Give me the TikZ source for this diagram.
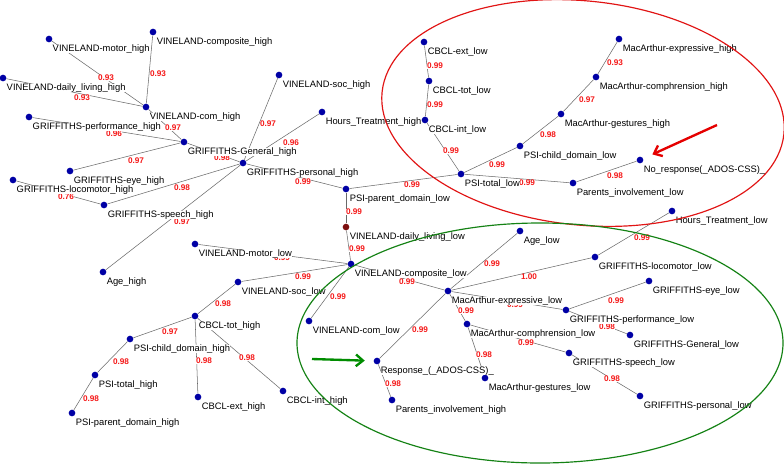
\documentclass[tikz,border=0pt]{standalone}
\usepackage{fontspec}
\setmainfont{Liberation Sans}
\usepackage{tikz}
\usepackage{xcolor}
\usetikzlibrary{arrows.meta}
\definecolor{dotblue}{RGB}{0,0,165}
\definecolor{dotred}{RGB}{125,15,15}
\definecolor{edgegray}{RGB}{105,105,105}
\definecolor{wtred}{RGB}{245,25,25}
\definecolor{ringred}{RGB}{225,20,20}
\definecolor{ringgreen}{RGB}{20,130,20}
\tikzstyle{every node}=[font=\fontsize{8}{9}\selectfont]
\tikzstyle{var} = [circle, fill=dotblue, inner sep=0pt, minimum size=0.2cm]
\tikzstyle{txt} = [anchor=base west, fill=white, inner sep=0pt, xshift=3pt, yshift=-10.5pt]
\tikzstyle{wt} = [text=wtred, fill=white, inner sep=0.3pt, font=\fontsize{7}{8}\selectfont\bfseries]
\tikzstyle{line} = [draw, edgegray, line width=0.45pt]
\tikzstyle{ring} = [line width=1pt]
\tikzstyle{pointer} = [draw, line width=2pt, -{Straight Barb[length=6pt,width=10pt]}]

\begin{document}
\begin{tikzpicture}[x=0.03cm, y=-0.03cm]
    \fill [white] (0,0) rectangle (784,465);
    \useasboundingbox (0,0) rectangle (784,465);
    % Place nodes
    \node [var] (vmotorh) at (49,39) {};
    \node [var] (vcompositeh) at (153,32) {};
    \node [var] (vdailyh) at (3,78) {};
    \node [var] (vcomh) at (146,107) {};
    \node [var] (gperfh) at (29,117) {};
    \node [var] (ggenh) at (184,142) {};
    \node [var] (geyeh) at (70,171) {};
    \node [var] (glocoh) at (13,180) {};
    \node [var] (gpersh) at (243,163) {};
    \node [var] (gspeechh) at (104,205) {};
    \node [var] (ageh) at (103,272) {};
    \node [var] (vsoch) at (279,75) {};
    \node [var] (hoursh) at (322,112) {};
    \node [var] (psiparl) at (346,189) {};
    \node [var, fill=dotred] (vdailyl) at (346,227) {};
    \node [var] (vcompositel) at (351,264) {};
    \node [var] (vmotorl) at (195,244) {};
    \node [var] (vsocl) at (238,282) {};
    \node [var] (cbcltoth) at (195,316) {};
    \node [var] (psichildh) at (130,339) {};
    \node [var] (psitoth) at (95,375) {};
    \node [var] (psiparh) at (72,413) {};
    \node [var] (cbclexth) at (198,397) {};
    \node [var] (cbclinth) at (283,391) {};
    \node [var] (vcoml) at (309,321) {};
    \node [var] (cbclextl) at (424,42) {};
    \node [var] (cbcltotl) at (429,81) {};
    \node [var] (cbclintl) at (425,120) {};
    \node [var] (psitotl) at (461,174) {};
    \node [var] (psichildl) at (520,146) {};
    \node [var] (mgesth) at (561,114) {};
    \node [var] (mcomph) at (596,77) {};
    \node [var] (mexprh) at (619,39) {};
    \node [var] (noresp) at (640,160) {};
    \node [var] (parinvl) at (573,183) {};
    \node [var] (hoursl) at (672,211) {};
    \node [var] (agel) at (520,231) {};
    \node [var] (glocol) at (595,257) {};
    \node [var] (mexprl) at (448,291) {};
    \node [var] (geyel) at (649,281) {};
    \node [var] (gperfl) at (566,310) {};
    \node [var] (ggenl) at (630,335) {};
    \node [var] (mcompl) at (467,324) {};
    \node [var] (gspeechl) at (569,353) {};
    \node [var] (gpersl) at (640,396) {};
    \node [var] (mgestl) at (485,378) {};
    \node [var] (resp) at (377,361) {};
    \node [var] (parinvh) at (392,400) {};
    % Draw edges
    \path [line] (vmotorh) -- (vcomh) node [wt, at={(106,78)}] {0.93};
    \path [line] (vcompositeh) -- (vcomh) node [wt, at={(158,74)}] {0.93};
    \path [line] (vdailyh) -- (vcomh) node [wt, at={(82,98)}] {0.93};
    \path [line] (vcomh) -- (ggenh) node [wt, at={(173,128)}] {0.97};
    \path [line] (gperfh) -- (ggenh) node [wt, at={(114,134)}] {0.96};
    \path [line] (geyeh) -- (ggenh) node [wt, at={(136,161)}] {0.97};
    \path [line] (ggenh) -- (gpersh) node [wt, at={(222,158)}] {0.98};
    \path [line] (gspeechh) -- (gpersh) node [wt, at={(182,188)}] {0.98};
    \path [line] (glocoh) -- (gspeechh) node [wt, at={(66,197)}] {0.76};
    \path [line] (ageh) -- (gpersh) node [wt, at={(182,222)}] {0.97};
    \path [line] (vsoch) -- (gpersh) node [wt, at={(268,124)}] {0.97};
    \path [line] (hoursh) -- (gpersh) node [wt, at={(291,143)}] {0.96};
    \path [line] (gpersh) -- (psiparl) node [wt, at={(303,182)}] {0.99};
    \path [line] (psiparl) -- (psitotl) node [wt, at={(412,185)}] {0.99};
    \path [line] (psiparl) -- (vdailyl) node [wt, at={(354,212)}] {0.99};
    \path [line] (vdailyl) -- (vcompositel) node [wt, at={(357,249)}] {0.99};
    \path [line] (vmotorl) -- (vcompositel) node [wt, at={(282,258)}] {0.99};
    \path [line] (vsocl) -- (vcompositel) node [wt, at={(303,277)}] {0.99};
    \path [line] (vcompositel) -- (vcoml) node [wt, at={(338,297)}] {0.99};
    \path [line] (vcompositel) -- (mexprl) node [wt, at={(407,282)}] {0.99};
    \path [line] (vsocl) -- (cbcltoth) node [wt, at={(223,304)}] {0.98};
    \path [line] (cbcltoth) -- (psichildh) node [wt, at={(170,332)}] {0.97};
    \path [line] (cbcltoth) -- (cbclexth) node [wt, at={(204,361)}] {0.98};
    \path [line] (cbcltoth) -- (cbclinth) node [wt, at={(247,358)}] {0.98};
    \path [line] (psichildh) -- (psitoth) node [wt, at={(121,362)}] {0.98};
    \path [line] (psitoth) -- (psiparh) node [wt, at={(91,399)}] {0.98};
    \path [line] (cbclextl) -- (cbcltotl) node [wt, at={(435,66)}] {0.99};
    \path [line] (cbcltotl) -- (cbclintl) node [wt, at={(435,105)}] {0.99};
    \path [line] (cbclintl) -- (psitotl) node [wt, at={(451,151)}] {0.99};
    \path [line] (psitotl) -- (psichildl) node [wt, at={(497,165)}] {0.99};
    \path [line] (psichildl) -- (mgesth) node [wt, at={(548,135)}] {0.98};
    \path [line] (mgesth) -- (mcomph) node [wt, at={(587,100)}] {0.97};
    \path [line] (mcomph) -- (mexprh) node [wt, at={(615,63)}] {0.93};
    \path [line] (psitotl) -- (parinvl) node [wt, at={(527,183)}] {0.99};
    \path [line] (parinvl) -- (noresp) node [wt, at={(615,176)}] {0.98};
    \path [line] (hoursl) -- (glocol) node [wt, at={(642,238)}] {0.99};
    \path [line] (glocol) -- (mexprl) node [wt, at={(529,277)}] {1.00};
    \path [line] (agel) -- (mexprl) node [wt, at={(492,264)}] {0.99};
    \path [line] (geyel) -- (gperfl) node [wt, at={(616,301)}] {0.99};
    \path [line] (gperfl) -- (mexprl) node [wt, at={(515,305)}] {0.99};
    \path [line] (gperfl) -- (ggenl) node [wt, at={(607,327)}] {0.98};
    \path [line] (mexprl) -- (mcompl) node [wt, at={(466,311)}] {0.99};
    \path [line] (mcompl) -- (gspeechl) node [wt, at={(526,343)}] {0.99};
    \path [line] (gspeechl) -- (gpersl) node [wt, at={(612,379)}] {0.98};
    \path [line] (mcompl) -- (mgestl) node [wt, at={(484,355)}] {0.98};
    \path [line] (mexprl) -- (resp) node [wt, at={(420,330)}] {0.99};
    \path [line] (resp) -- (parinvh) node [wt, at={(393,384)}] {0.98};
    % Node texts
    \node [txt] (vmotorhlab) at (vmotorh) {VINELAND-motor\_high};
    \node [txt] (vcompositehlab) at (vcompositeh) {VINELAND-composite\_high};
    \node [txt] (vdailyhlab) at (vdailyh) {VINELAND-daily\_living\_high};
    \node [txt] (vcomhlab) at (vcomh) {VINELAND-com\_high};
    \node [txt] (gperfhlab) at (gperfh) {GRIFFITHS-performance\_high};
    \node [txt] (ggenhlab) at (ggenh) {GRIFFITHS-General\_high};
    \node [txt] (geyehlab) at (geyeh) {GRIFFITHS-eye\_high};
    \node [txt] (glocohlab) at (glocoh) {GRIFFITHS-locomotor\_high};
    \node [txt] (gpershlab) at (gpersh) {GRIFFITHS-personal\_high};
    \node [txt] (gspeechhlab) at (gspeechh) {GRIFFITHS-speech\_high};
    \node [txt] (agehlab) at (ageh) {Age\_high};
    \node [txt] (vsochlab) at (vsoch) {VINELAND-soc\_high};
    \node [txt] (hourshlab) at (hoursh) {Hours\_Treatment\_high};
    \node [txt] (psiparllab) at (psiparl) {PSI-parent\_domain\_low};
    \node [txt] (vdailyllab) at (vdailyl) {VINELAND-daily\_living\_low};
    \node [txt] (vcompositellab) at (vcompositel) {VINELAND-composite\_low};
    \node [txt] (vmotorllab) at (vmotorl) {VINELAND-motor\_low};
    \node [txt] (vsocllab) at (vsocl) {VINELAND-soc\_low};
    \node [txt] (cbcltothlab) at (cbcltoth) {CBCL-tot\_high};
    \node [txt] (psichildhlab) at (psichildh) {PSI-child\_domain\_high};
    \node [txt] (psitothlab) at (psitoth) {PSI-total\_high};
    \node [txt] (psiparhlab) at (psiparh) {PSI-parent\_domain\_high};
    \node [txt] (cbclexthlab) at (cbclexth) {CBCL-ext\_high};
    \node [txt] (cbclinthlab) at (cbclinth) {CBCL-int\_high};
    \node [txt] (vcomllab) at (vcoml) {VINELAND-com\_low};
    \node [txt] (cbclextllab) at (cbclextl) {CBCL-ext\_low};
    \node [txt] (cbcltotllab) at (cbcltotl) {CBCL-tot\_low};
    \node [txt] (cbclintllab) at (cbclintl) {CBCL-int\_low};
    \node [txt] (psitotllab) at (psitotl) {PSI-total\_low};
    \node [txt] (psichildllab) at (psichildl) {PSI-child\_domain\_low};
    \node [txt] (mgesthlab) at (mgesth) {MacArthur-gestures\_high};
    \node [txt] (mcomphlab) at (mcomph) {MacArthur-comphrension\_high};
    \node [txt] (mexprhlab) at (mexprh) {MacArthur-expressive\_high};
    \node [txt] (noresplab) at (noresp) {No\_response(\_ADOS-CSS)\_};
    \node [txt] (parinvllab) at (parinvl) {Parents\_involvement\_low};
    \node [txt] (hoursllab) at (hoursl) {Hours\_Treatment\_low};
    \node [txt] (agellab) at (agel) {Age\_low};
    \node [txt] (glocollab) at (glocol) {GRIFFITHS-locomotor\_low};
    \node [txt] (mexprllab) at (mexprl) {MacArthur-expressive\_low};
    \node [txt] (geyellab) at (geyel) {GRIFFITHS-eye\_low};
    \node [txt] (gperfllab) at (gperfl) {GRIFFITHS-performance\_low};
    \node [txt] (ggenllab) at (ggenl) {GRIFFITHS-General\_low};
    \node [txt] (mcomplab) at (mcompl) {MacArthur-comphrension\_low};
    \node [txt] (gspeechllab) at (gspeechl) {GRIFFITHS-speech\_low};
    \node [txt] (gpersllab) at (gpersl) {GRIFFITHS-personal\_low};
    \node [txt] (mgestllab) at (mgestl) {MacArthur-gestures\_low};
    \node [txt] (resplab) at (resp) {Response\_(\_ADOS-CSS)\_};
    \node [txt] (parinvhlab) at (parinvh) {Parents\_involvement\_high};
    % Clusters and pointers
    \draw [ring, ringred, rotate around={-6:(583,113)}] (583,113) ellipse [x radius=202, y radius=112];
    \draw [ring, ringgreen] (540,343) ellipse [x radius=243, y radius=120];
    \coordinate (redtail) at (717,125);
    \coordinate (greentail) at (312,359);
    \path [pointer, red!90!black, shorten >=0.3cm] (redtail) -- (noresp);
    \path [pointer, green!55!black, shorten >=0.26cm] (greentail) -- (resp);
\end{tikzpicture}
\end{document}
